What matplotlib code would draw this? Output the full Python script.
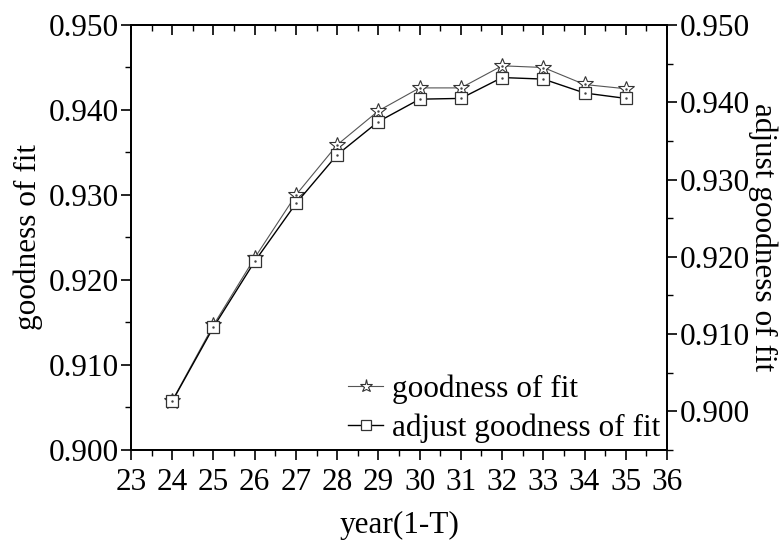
import matplotlib
matplotlib.use("Agg")
import matplotlib.pyplot as plt
from matplotlib.ticker import MultipleLocator, FormatStrFormatter

plt.rcParams['font.family'] = ['Liberation Serif', 'DejaVu Serif']
plt.rcParams['mathtext.fontset'] = 'stix'

years = [24, 25, 26, 27, 28, 29, 30, 31, 32, 33, 34, 35]
gof = [0.9058, 0.9147, 0.9226, 0.9300, 0.9359, 0.9399,
       0.9426, 0.9426, 0.9452, 0.9450, 0.9430, 0.9425]
adj_gof = [0.9013, 0.9109, 0.9194, 0.9269, 0.9332, 0.9375,
           0.9404, 0.9405, 0.9432, 0.9430, 0.9412, 0.9405]

fs = 22.5

fig = plt.figure(figsize=(7.84, 5.4), dpi=100)
ax = fig.add_axes([0.1671, 0.1667, 0.6837, 0.787])
ax2 = ax.twinx()

l1, = ax.plot(years, gof, color='#555555', lw=0.8, marker='*', ms=12,
              mfc='white', mec='#333333', mew=0.8, label='goodness of fit', zorder=3)
l2, = ax2.plot(years, adj_gof, color='black', lw=1.0, marker='s', ms=9,
               mfc='white', mec='#333333', mew=0.9, label='adjust goodness of fit', zorder=3)
# small dots at marker centres
ax.plot(years, gof, ls='none', marker='.', ms=1.5, color='#444444', zorder=4)
ax2.plot(years, adj_gof, ls='none', marker='.', ms=1.5, color='#444444', zorder=4)

ax.set_xlim(23, 36)
ax.set_ylim(0.900, 0.950)
ax2.set_ylim(0.895, 0.950)

ax.xaxis.set_major_locator(MultipleLocator(1))
ax.xaxis.set_minor_locator(MultipleLocator(0.5))
ax.yaxis.set_major_locator(MultipleLocator(0.01))
ax.yaxis.set_minor_locator(MultipleLocator(0.005))
ax.yaxis.set_major_formatter(FormatStrFormatter('%.3f'))
ax2.set_yticks([0.900, 0.910, 0.920, 0.930, 0.940, 0.950])
ax2.set_yticks([0.895, 0.905, 0.915, 0.925, 0.935, 0.945], minor=True)
ax2.yaxis.set_major_formatter(FormatStrFormatter('%.3f'))

ax.tick_params(axis='x', which='both', direction='out', top=False, labelsize=fs, pad=6)
ax.tick_params(axis='y', which='both', direction='out', labelsize=fs, pad=2)
ax.tick_params(which='major', length=7, width=1.2)
ax.tick_params(which='minor', length=4, width=1.0)
ax2.tick_params(axis='y', which='both', direction='out', labelsize=fs, pad=2)
ax2.tick_params(which='major', length=7, width=1.2)
ax2.tick_params(which='minor', length=4, width=1.0)

# top ticks point inward
secx = ax.secondary_xaxis('top')
secx.xaxis.set_major_locator(MultipleLocator(1))
secx.xaxis.set_minor_locator(MultipleLocator(0.5))
secx.tick_params(which='both', direction='in', labeltop=False)
secx.tick_params(which='major', length=7, width=1.2)
secx.tick_params(which='minor', length=4, width=1.0)

for a in (ax, ax2):
    for s in a.spines.values():
        s.set_linewidth(1.3)
secx.spines['top'].set_linewidth(1.3)

ax.set_xlabel('year(1-T)', fontsize=fs, labelpad=10)
ax.set_ylabel('goodness of fit', fontsize=fs, labelpad=4)
ax2.set_ylabel('adjust goodness of fit', fontsize=fs, rotation=-90, labelpad=20)

leg = ax.legend(handles=[l1, l2], loc='lower right', frameon=False, fontsize=fs,
                handlelength=1.1, handletextpad=0.3, borderaxespad=0.0,
                labelspacing=0.3, markerscale=0.8, bbox_to_anchor=(1.011, -0.012))

fig.savefig('out.png', dpi=100)
